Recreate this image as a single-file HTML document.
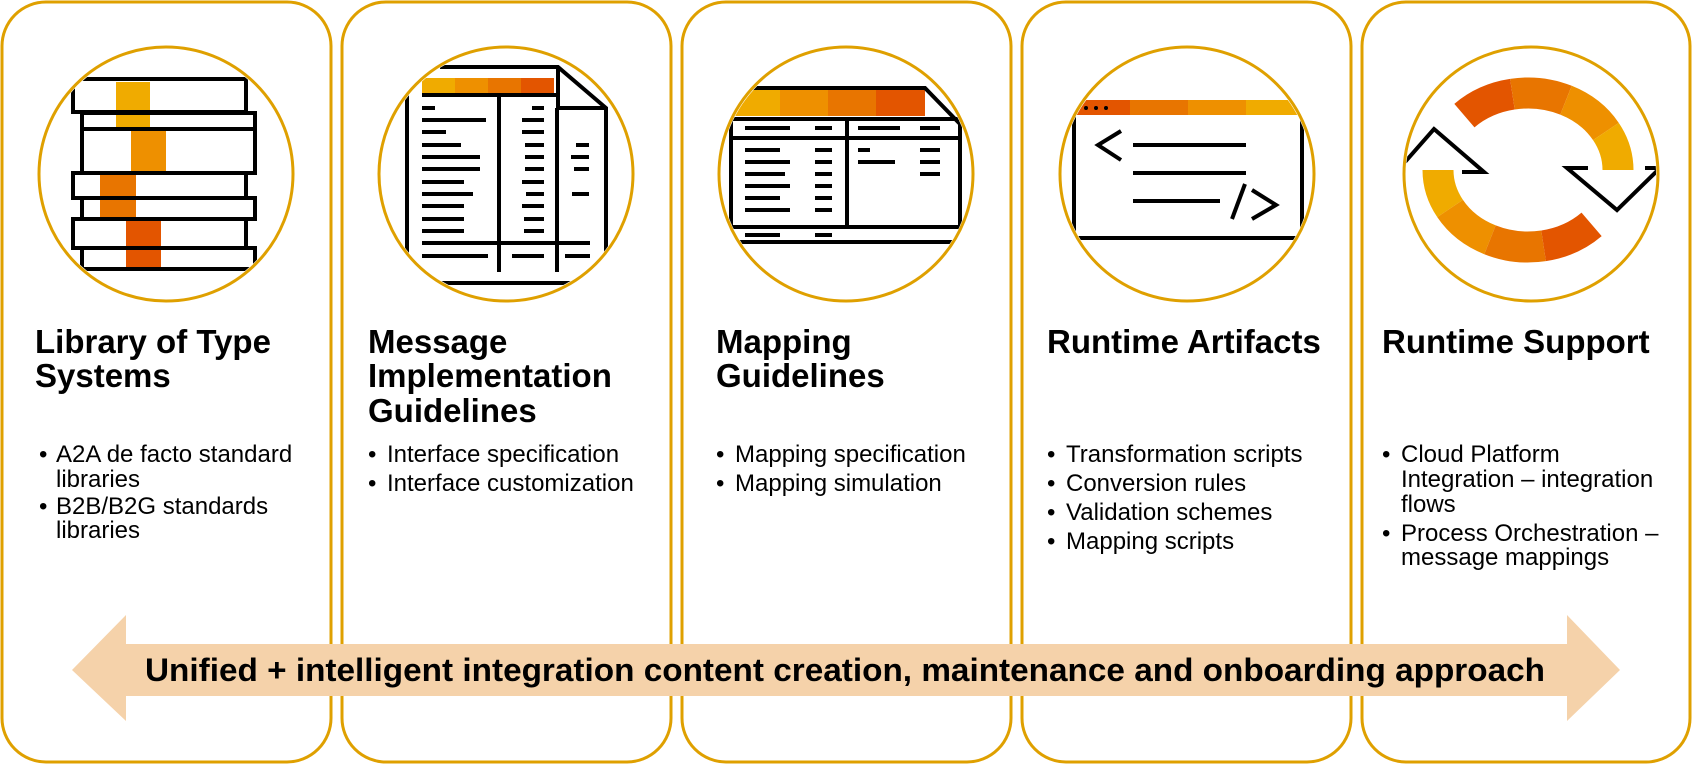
<!DOCTYPE html>
<html><head><meta charset="utf-8"><style>
html,body{margin:0;padding:0;background:#fff}
svg{display:block}
text{font-family:"Liberation Sans",Arial,sans-serif;fill:#000}
.t{font-size:33px;font-weight:bold}
.b{font-size:24px}
</style></head><body>
<svg width="1692" height="765" viewBox="0 0 1692 765" xmlns="http://www.w3.org/2000/svg">
<defs>
<clipPath id="c1"><circle cx="166" cy="174" r="125"/></clipPath>
<clipPath id="c2"><circle cx="506" cy="174" r="125"/></clipPath>
<clipPath id="c3"><circle cx="846" cy="174" r="125"/></clipPath>
<clipPath id="c4"><circle cx="1187" cy="174" r="125"/></clipPath>
<clipPath id="c5"><circle cx="1531" cy="174" r="125"/></clipPath>
</defs>
<g fill="none" stroke="#DFA000" stroke-width="3">
<rect x="2" y="2" width="329" height="760" rx="44"/>
<rect x="342" y="2" width="329" height="760" rx="44"/>
<rect x="682" y="2" width="329" height="760" rx="44"/>
<rect x="1022" y="2" width="329" height="760" rx="44"/>
<rect x="1362" y="2" width="328" height="760" rx="44"/>
</g>

<!-- icon 1 books -->
<g clip-path="url(#c1)">
<rect x="116" y="82" width="34" height="46" fill="#F0AB00"/>
<rect x="131" y="128" width="35" height="46" fill="#EE9000"/>
<rect x="100" y="174" width="36" height="47" fill="#E87500"/>
<rect x="126" y="221" width="35" height="46" fill="#E35500"/>
<g fill="none" stroke="#000" stroke-width="4">
<rect x="73" y="79" width="173" height="33"/>
<rect x="82" y="113" width="173" height="16"/>
<rect x="82" y="129" width="173" height="44"/>
<rect x="73" y="173" width="173" height="25"/>
<rect x="82" y="198" width="173" height="21"/>
<rect x="73" y="219" width="173" height="29"/>
<rect x="82" y="248" width="173" height="21"/>
</g>
</g>

<!-- icon 2 document -->
<g clip-path="url(#c2)">
<rect x="422" y="78" width="33" height="15" fill="#F0AB00"/>
<rect x="455" y="78" width="33" height="15" fill="#EE9000"/>
<rect x="488" y="78" width="33" height="15" fill="#E87500"/>
<rect x="521" y="78" width="33" height="15" fill="#E35500"/>
<g fill="none" stroke="#000" stroke-width="4">
<polyline points="440,67 558,67 606,108 606,255"/>
<polyline points="558,67 558,108 606,108"/>
<line x1="407" y1="95" x2="407" y2="255"/>
<line x1="422" y1="95" x2="556" y2="95"/>
<line x1="499" y1="95" x2="499" y2="272"/>
<line x1="557" y1="108" x2="557" y2="272"/>
<line x1="422" y1="243" x2="590" y2="243"/>
<line x1="422" y1="256" x2="488" y2="256"/>
<line x1="512" y1="256" x2="544" y2="256"/>
<line x1="565" y1="256" x2="590" y2="256"/>
<line x1="430" y1="283" x2="580" y2="283"/>
</g>
<g stroke="#000" stroke-width="4">
<line x1="422" y1="108" x2="435" y2="108"/><line x1="532" y1="108" x2="544" y2="108"/>
<line x1="422" y1="120" x2="486" y2="120"/><line x1="522" y1="120" x2="544" y2="120"/>
<line x1="422" y1="132" x2="446" y2="132"/><line x1="522" y1="132" x2="544" y2="132"/>
<line x1="422" y1="145" x2="461" y2="145"/><line x1="525" y1="145" x2="544" y2="145"/><line x1="576" y1="145" x2="589" y2="145"/>
<line x1="422" y1="157" x2="480" y2="157"/><line x1="525" y1="157" x2="544" y2="157"/><line x1="571" y1="157" x2="589" y2="157"/>
<line x1="422" y1="169" x2="480" y2="169"/><line x1="525" y1="169" x2="544" y2="169"/><line x1="574" y1="169" x2="589" y2="169"/>
<line x1="422" y1="182" x2="464" y2="182"/><line x1="522" y1="182" x2="544" y2="182"/>
<line x1="422" y1="194" x2="473" y2="194"/><line x1="526" y1="194" x2="544" y2="194"/><line x1="572" y1="194" x2="589" y2="194"/>
<line x1="422" y1="206" x2="464" y2="206"/><line x1="522" y1="206" x2="544" y2="206"/>
<line x1="422" y1="219" x2="464" y2="219"/><line x1="524" y1="219" x2="544" y2="219"/>
<line x1="422" y1="231" x2="464" y2="231"/><line x1="524" y1="231" x2="544" y2="231"/>
</g>
</g>

<!-- icon 3 mapping -->
<g clip-path="url(#c3)">
<rect x="732" y="90" width="48" height="26" fill="#F0AB00"/>
<rect x="780" y="90" width="48" height="26" fill="#EE9000"/>
<rect x="828" y="90" width="48" height="26" fill="#E87500"/>
<rect x="876" y="90" width="49" height="26" fill="#E35500"/>
<g fill="none" stroke="#000" stroke-width="4">
<polyline points="731,88 925,88 960,124 960,250"/>
<line x1="731" y1="88" x2="731" y2="250"/>
<line x1="731" y1="119" x2="960" y2="119"/>
<line x1="731" y1="138" x2="960" y2="138"/>
<line x1="847" y1="119" x2="847" y2="227"/>
<line x1="731" y1="227" x2="960" y2="227"/>
<line x1="731" y1="242" x2="960" y2="242"/>
</g>
<g stroke="#000" stroke-width="4">
<line x1="745" y1="128" x2="790" y2="128"/><line x1="815" y1="128" x2="832" y2="128"/><line x1="858" y1="128" x2="900" y2="128"/><line x1="920" y1="128" x2="940" y2="128"/>
<line x1="745" y1="150" x2="780" y2="150"/><line x1="815" y1="150" x2="832" y2="150"/><line x1="858" y1="150" x2="870" y2="150"/><line x1="920" y1="150" x2="940" y2="150"/>
<line x1="745" y1="162" x2="790" y2="162"/><line x1="815" y1="162" x2="832" y2="162"/><line x1="858" y1="162" x2="895" y2="162"/><line x1="920" y1="162" x2="940" y2="162"/>
<line x1="745" y1="174" x2="785" y2="174"/><line x1="815" y1="174" x2="832" y2="174"/><line x1="920" y1="174" x2="940" y2="174"/>
<line x1="745" y1="186" x2="790" y2="186"/><line x1="815" y1="186" x2="832" y2="186"/>
<line x1="745" y1="198" x2="780" y2="198"/><line x1="815" y1="198" x2="832" y2="198"/>
<line x1="745" y1="210" x2="790" y2="210"/><line x1="815" y1="210" x2="832" y2="210"/>
<line x1="745" y1="235" x2="780" y2="235"/><line x1="815" y1="235" x2="832" y2="235"/>
</g>
</g>

<!-- icon 4 code -->
<g clip-path="url(#c4)">
<rect x="1060" y="100" width="70" height="15" fill="#E35500"/>
<rect x="1130" y="100" width="58" height="15" fill="#E87500"/>
<rect x="1188" y="100" width="58" height="15" fill="#EE9000"/>
<rect x="1246" y="100" width="70" height="15" fill="#F0AB00"/>
<circle cx="1086" cy="108" r="2" fill="#000"/><circle cx="1096" cy="108" r="2" fill="#000"/><circle cx="1106" cy="108" r="2" fill="#000"/>
<g fill="none" stroke="#000" stroke-width="4">
<polyline points="1074,115 1074,238 1302,238 1302,115"/>
<polyline points="1121,131 1098,145 1121,160"/>
<line x1="1133" y1="145" x2="1246" y2="145"/>
<line x1="1133" y1="173" x2="1246" y2="173"/>
<line x1="1133" y1="201" x2="1220" y2="201"/>
<line x1="1232" y1="219" x2="1245" y2="184"/>
<polyline points="1252,190 1276,205 1252,219"/>
</g>
</g>

<!-- icon 5 refresh -->
<g clip-path="url(#c5)">
<g fill="none" stroke-width="31">
<path d="M1464.4,115.6 A90 77 0 0 1 1512.4,94.2" stroke="#E35500"/>
<path d="M1512.4,94.2 A90 77 0 0 1 1566,100.2" stroke="#E87500"/>
<path d="M1566,100.2 A90 77 0 0 1 1605.9,131.5" stroke="#EE9000"/>
<path d="M1605.9,131.5 A90 77 0 0 1 1618,170" stroke="#F0AB00"/>
<path d="M1438,170 A90 77 0 0 0 1450.1,208.5" stroke="#F0AB00"/>
<path d="M1450.1,208.5 A90 77 0 0 0 1490,239.8" stroke="#EE9000"/>
<path d="M1490,239.8 A90 77 0 0 0 1543.6,245.8" stroke="#E87500"/>
<path d="M1543.6,245.8 A90 77 0 0 0 1591.6,224.4" stroke="#E35500"/>
</g>
<g fill="none" stroke="#000" stroke-width="4">
<polyline points="1398,170 1434,129 1484,172 1462,172"/>
<line x1="1400" y1="172" x2="1406" y2="172"/>
<polyline points="1588,168 1567,168 1617,210 1660,168"/>
<line x1="1645" y1="168" x2="1660" y2="168"/>
</g>
</g>

<g fill="none" stroke="#DFA000" stroke-width="3">
<circle cx="166" cy="174" r="127"/>
<circle cx="506" cy="174" r="127"/>
<circle cx="846" cy="174" r="127"/>
<circle cx="1187" cy="174" r="127"/>
<circle cx="1531" cy="174" r="127"/>
</g>

<!-- titles -->
<text class="t" x="35" y="353">Library of Type</text>
<text class="t" x="35" y="387">Systems</text>
<text class="t" x="368" y="353">Message</text>
<text class="t" x="368" y="387">Implementation</text>
<text class="t" x="368" y="422">Guidelines</text>
<text class="t" x="716" y="353">Mapping</text>
<text class="t" x="716" y="387">Guidelines</text>
<text class="t" x="1047" y="353">Runtime Artifacts</text>
<text class="t" x="1382" y="353">Runtime Support</text>

<!-- bullets -->
<text class="b" x="39" y="462">•</text><text class="b" x="56" y="462">A2A de facto standard</text>
<text class="b" x="56" y="487">libraries</text>
<text class="b" x="39" y="514">•</text><text class="b" x="56" y="514">B2B/B2G standards</text>
<text class="b" x="56" y="538">libraries</text>

<text class="b" x="368" y="462">•</text><text class="b" x="387" y="462">Interface specification</text>
<text class="b" x="368" y="491">•</text><text class="b" x="387" y="491">Interface customization</text>

<text class="b" x="716" y="462">•</text><text class="b" x="735" y="462">Mapping specification</text>
<text class="b" x="716" y="491">•</text><text class="b" x="735" y="491">Mapping simulation</text>

<text class="b" x="1047" y="462">•</text><text class="b" x="1066" y="462">Transformation scripts</text>
<text class="b" x="1047" y="491">•</text><text class="b" x="1066" y="491">Conversion rules</text>
<text class="b" x="1047" y="520">•</text><text class="b" x="1066" y="520">Validation schemes</text>
<text class="b" x="1047" y="549">•</text><text class="b" x="1066" y="549">Mapping scripts</text>

<text class="b" x="1382" y="462">•</text><text class="b" x="1401" y="462">Cloud Platform</text>
<text class="b" x="1401" y="487">Integration – integration</text>
<text class="b" x="1401" y="512">flows</text>
<text class="b" x="1382" y="541">•</text><text class="b" x="1401" y="541">Process Orchestration –</text>
<text class="b" x="1401" y="565">message mappings</text>

<!-- arrow -->
<polygon points="72,670 126,615 126,644 1567,644 1567,615 1620,670 1567,721 1567,696 126,696 126,721" fill="#F5D2AA"/>
<text x="845" y="681" text-anchor="middle" font-size="32" font-weight="bold" textLength="1400" lengthAdjust="spacingAndGlyphs">Unified + intelligent integration content creation, maintenance and onboarding approach</text>
</svg>
</body></html>
